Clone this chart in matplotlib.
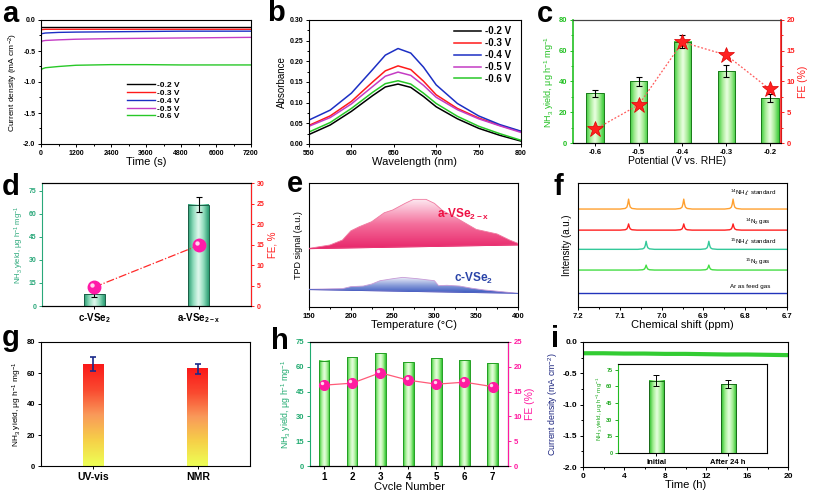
import numpy as np
import matplotlib
matplotlib.use('Agg')
import matplotlib.pyplot as plt
from matplotlib.colors import LinearSegmentedColormap
from matplotlib.ticker import MultipleLocator
from matplotlib.transforms import offset_copy

plt.rcParams['font.family'] = ['Liberation Sans', 'DejaVu Sans']
plt.rcParams['font.weight'] = 'bold'
plt.rcParams['mathtext.default'] = 'regular'
plt.rcParams['axes.linewidth'] = 0.8

# ---- data ----
# a: i-t curves
a_time = [0, 30, 150, 600, 1200, 2400, 3600, 4800, 6000, 7200]
a_j02 = [-0.12, -0.12, -0.12, -0.12, -0.12, -0.12, -0.12, -0.12, -0.12, -0.12]
a_j03 = [-0.16, -0.155, -0.15, -0.15, -0.15, -0.15, -0.15, -0.15, -0.15, -0.15]
a_j04 = [-0.24, -0.22, -0.21, -0.20, -0.195, -0.19, -0.185, -0.18, -0.18, -0.18]
a_j05 = [-0.38, -0.34, -0.33, -0.32, -0.31, -0.30, -0.295, -0.29, -0.285, -0.28]
a_j06 = [-0.82, -0.79, -0.77, -0.75, -0.73, -0.72, -0.72, -0.725, -0.725, -0.725]
potentials = ['-0.2 V', '-0.3 V', '-0.4 V', '-0.5 V', '-0.6 V']

# b: UV-vis spectra
b_wl = [550, 575, 600, 625, 640, 655, 670, 685, 700, 725, 750, 775, 800]
b_02 = [.023, .046, .079, .117, .138, .145, .137, .115, .090, .061, .038, .021, .007]
b_03 = [.045, .068, .103, .150, .177, .189, .180, .152, .119, .086, .063, .045, .030]
b_04 = [.058, .082, .123, .180, .215, .231, .220, .186, .143, .098, .068, .047, .031]
b_05 = [.043, .064, .097, .139, .164, .174, .166, .142, .113, .083, .061, .044, .028]
b_06 = [.029, .052, .086, .125, .146, .153, .145, .123, .098, .067, .043, .025, .009]

# c: yield and FE vs potential
c_pot = [-0.6, -0.5, -0.4, -0.3, -0.2]
c_yield = [32.3, 40.0, 66.0, 46.8, 29.1]
c_err = [2.4, 2.7, 4.3, 4.0, 2.7]
c_fe = [2.2, 6.2, 16.4, 14.3, 8.7]

# d: c-VSe2 vs a-VSe2-x
d_cats = ['c-VSe$_2$', 'a-VSe$_{2-x}$']
d_yield = [7.6, 66.0]
d_err = [1.8, 4.7]
d_fe = [4.6, 14.8]

# e: TPD
e_temp_a = [150, 175, 190, 200, 210, 225, 240, 250, 265, 275, 290, 300, 310, 325, 350, 375, 390, 400]
e_sig_a = [0.473, 0.50, 0.54, 0.614, 0.647, 0.688, 0.76, 0.782, 0.836, 0.868, 0.868, 0.836,
           0.777, 0.723, 0.626, 0.589, 0.54, 0.513]
e_base_a = [0.47, 0.50]
e_temp_c = [150, 190, 200, 215, 225, 235, 250, 262, 280, 300, 305, 315, 330, 345, 360, 380, 400]
e_sig_c = [0.143, 0.148, 0.164, 0.169, 0.185, 0.212, 0.228, 0.239, 0.228, 0.212, 0.172,
           0.175, 0.169, 0.151, 0.137, 0.124, 0.110]
e_base_c = [0.14, 0.11]

# f: 1H NMR
f_names = ['$^{14}$NH$_4^+$ standard', '$^{14}$N$_2$ gas', '$^{15}$NH$_4^+$ standard',
           '$^{15}$N$_2$ gas', 'Ar as feed gas']
f_base = [0.79, 0.62, 0.465, 0.298, 0.11]
f_peaks = [[6.829, 6.947, 7.079], [6.829, 6.947, 7.079], [6.887, 7.037], [6.887, 7.037], []]
f_height = [0.08, 0.05, 0.065, 0.04, 0.0]
f_shape_dx = [-0.02, -0.008, -0.004, -0.002, 0.0, 0.002, 0.004, 0.008, 0.02]
f_shape_y = [0.0, 0.06, 0.2, 0.5, 1.0, 0.5, 0.2, 0.06, 0.0]

# g: UV-vis vs NMR
g_cats = ['UV-vis', 'NMR']
g_yield = [65.6, 62.6]
g_err = [4.6, 3.0]

# h: cycling
h_cycle = [1, 2, 3, 4, 5, 6, 7]
h_yield = [63.7, 65.7, 68.1, 62.9, 65.3, 63.9, 62.1]
h_fe = [16.3, 16.7, 18.8, 17.3, 16.5, 16.9, 16.0]

# i: long-term stability
i_time = [0, 2, 4, 6, 8, 10, 12, 14, 16, 18, 20]
i_j = [-0.18, -0.18, -0.185, -0.185, -0.19, -0.19, -0.195, -0.2, -0.2, -0.205, -0.21]
i_cats = ['Initial', 'After 24 h']
i_yield = [65.0, 62.0]
i_err = [5.0, 3.4]

# ---- helpers ----
W, H = 813, 490
fig = plt.figure(figsize=(W / 100, H / 100), dpi=100)


def box(x0, y0, x1, y1):
    return [x0 / W, 1 - y1 / H, (x1 - x0) / W, (y1 - y0) / H]


def style(ax, size=5):
    ax.tick_params(which='both', direction='out', labelsize=size, width=0.7, pad=1.5)
    ax.tick_params(which='major', length=2.5)
    ax.tick_params(which='minor', length=1.5)


def cyl_bars(ax, xs, hs, w, colors, edge):
    cmap = LinearSegmentedColormap.from_list('cyl', colors)
    grad = np.linspace(0, 1, 60).reshape(1, -1)
    for x, h in zip(xs, hs):
        ax.imshow(grad, extent=[x - w / 2, x + w / 2, 0, h], aspect='auto',
                  cmap=cmap, zorder=2, interpolation='bicubic')
    ax.bar(xs, hs, w, fill=False, edgecolor=edge, lw=0.7, zorder=3)


def spheres(ax, xs, ys, ms, color):
    ax.plot(xs, ys, 'o', ms=ms, color=color, mec=color, zorder=5)
    tr = offset_copy(ax.transData, fig=fig, x=-ms * 0.18, y=ms * 0.18, units='points')
    ax.plot(xs, ys, 'o', ms=ms * 0.35, color='#ffd6ee', mec='none', transform=tr, zorder=6)


def letter(x, y, s):
    fig.text(x / W, 1 - y / H, s, fontsize=21, fontweight='bold', va='baseline')


line_cols = ['black', '#ff1a1a', '#1c2fc4', '#c43cc4', '#28c828']

# ---- a ----
ax = fig.add_axes(box(41, 20, 251, 144))
for ys, c, lab in zip([a_j02, a_j03, a_j04, a_j05, a_j06], line_cols, potentials):
    ax.plot(a_time, ys, color=c, lw=1, label=lab)
ax.set_xlim(0, 7200)
ax.set_ylim(-2.0, 0.0)
ax.xaxis.set_major_locator(MultipleLocator(1200))
ax.xaxis.set_minor_locator(MultipleLocator(600))
ax.yaxis.set_major_locator(MultipleLocator(0.5))
ax.yaxis.set_minor_locator(MultipleLocator(0.25))
ax.yaxis.set_major_formatter(lambda v, p: f'{v:.1f}')
style(ax)
ax.set_xlabel('Time (s)', fontsize=8, labelpad=0)
ax.set_ylabel('Current density (mA cm$^{-2}$)', fontsize=6, fontweight='normal', labelpad=2)
ax.legend(loc='upper left', bbox_to_anchor=(0.39, 0.54), frameon=False, fontsize=6,
          handlelength=3.3, handletextpad=0.3, labelspacing=0.0, borderpad=0)
letter(2, 22, 'a')

# ---- b ----
ax = fig.add_axes(box(309, 20, 521, 144))
for ys, c, lab in zip([b_02, b_03, b_04, b_05, b_06], line_cols, potentials):
    ax.plot(b_wl, ys, color=c, lw=1.1, label=lab)
ax.set_xlim(550, 800)
ax.set_ylim(0, 0.30)
ax.xaxis.set_major_locator(MultipleLocator(50))
ax.yaxis.set_major_locator(MultipleLocator(0.05))
ax.yaxis.set_minor_locator(MultipleLocator(0.025))
ax.yaxis.set_major_formatter(lambda v, p: f'{v:.2f}')
style(ax)
ax.set_xlabel('Wavelength (nm)', fontsize=8, labelpad=0)
ax.set_ylabel('Absorbance', fontsize=7, fontweight='normal', labelpad=2)
ax.legend(loc='upper left', bbox_to_anchor=(0.66, 0.99), frameon=False, fontsize=7,
          handlelength=2.8, handletextpad=0.4, labelspacing=0.2, borderpad=0)
letter(267, 21, 'b')

# ---- c ----
green_c = '#22c022'
red_c = '#ff2020'
ax = fig.add_axes(box(573, 20, 781, 143))
cyl_bars(ax, c_pot, c_yield, 0.04,
         ['#3acc3a', '#a6ec96', '#ecffe4', '#a6ec96', '#3acc3a'], '#1a7a1a')
ax.errorbar(c_pot, c_yield, yerr=c_err, fmt='none', ecolor='black', elinewidth=0.8,
            capsize=2.5, capthick=0.8, zorder=4)
ax.set_xlim(-0.65, -0.175)
ax.set_ylim(0, 80)
ax.set_xticks(c_pot)
ax.set_xticklabels([f'{p:.1f}' for p in c_pot])
ax.yaxis.set_major_locator(MultipleLocator(20))
ax.yaxis.set_minor_locator(MultipleLocator(10))
style(ax, 5.5)
ax.tick_params(axis='y', which='both', colors=green_c)
ax.spines['left'].set_color(green_c)
ax.spines['left'].set_linewidth(1.2)
ax.spines['top'].set_color('#444444')
ax.set_xlabel('Potential (V vs. RHE)', fontsize=7.5, labelpad=0)
ax.set_ylabel('NH$_3$ yield, μg h$^{-1}$ mg$^{-1}$', fontsize=6.5, color=green_c, labelpad=2)
ax2 = ax.twinx()
ax2.plot(c_pot, c_fe, ls=(0, (1.5, 1.5)), color='#ff5a5a', lw=0.9, zorder=4)
ax2.plot(c_pot, c_fe, '*', ms=12, color=red_c, mec='#dd0000', mew=0.5, zorder=5)
ax2.set_ylim(0, 20)
ax2.yaxis.set_major_locator(MultipleLocator(5))
ax2.yaxis.set_minor_locator(MultipleLocator(2.5))
style(ax2, 5.5)
ax2.tick_params(axis='y', which='both', colors=red_c)
ax2.spines['right'].set_color(red_c)
ax2.spines['right'].set_linewidth(1.2)
ax2.spines['left'].set_visible(False)
ax2.spines['top'].set_color('#444444')
ax2.set_ylabel('FE (%)', fontsize=7.5, color=red_c, labelpad=2)
letter(537, 22, 'c')

# ---- d ----
teal = '#2aa87a'
ax = fig.add_axes(box(42, 183, 251, 306))
d_x = [0, 1]
cyl_bars(ax, d_x, d_yield, 0.2,
         ['#2a9c72', '#8fdcbc', '#e2f8ee', '#8fdcbc', '#2a9c72'], '#1b5e46')
ax.errorbar(d_x, d_yield, yerr=d_err, fmt='none', ecolor='black', elinewidth=0.8,
            capsize=2.5, capthick=0.8, zorder=4)
ax.set_xlim(-0.5, 1.5)
ax.set_ylim(0, 80)
ax.set_xticks(d_x)
ax.set_xticklabels(d_cats, fontsize=7)
ax.set_yticks(range(0, 76, 15))
style(ax, 5)
ax.tick_params(axis='x', labelsize=7)
ax.tick_params(axis='y', colors=teal)
ax.spines['left'].set_color(teal)
ax.set_ylabel('NH$_3$ yield, μg h$^{-1}$ mg$^{-1}$', fontsize=5.5, fontweight='normal',
              color=teal, labelpad=2)
ax2 = ax.twinx()
ax2.plot(d_x, d_fe, ls='-.', color='#ff2a2a', lw=0.9, zorder=4)
spheres(ax2, d_x, d_fe, 9, '#ff1aa8')
ax2.set_ylim(0, 30)
ax2.yaxis.set_major_locator(MultipleLocator(5))
style(ax2, 5)
ax2.tick_params(axis='y', colors=red_c)
ax2.spines['right'].set_color(red_c)
ax2.spines['left'].set_visible(False)
ax2.set_ylabel('FE, %', fontsize=7, color=red_c, labelpad=2)
letter(2, 195, 'd')

# ---- e ----
ax = fig.add_axes(box(309, 183, 518, 307))
for tx, sy, base, cols, edge in [
        (e_temp_a, e_sig_a, e_base_a, ['#e8266a', '#f46f9c', '#fde8f0'], '#f07aa0'),
        (e_temp_c, e_sig_c, e_base_c, ['#3a58bf', '#8c9fda', '#eeeef9'], '#c79ad6')]:
    verts = list(zip(tx, sy)) + [(tx[-1], base[1]), (tx[0], base[0])]
    poly = ax.fill([v[0] for v in verts], [v[1] for v in verts], facecolor='none',
                   edgecolor=edge, lw=0.6, zorder=3)[0]
    cmap = LinearSegmentedColormap.from_list('tpd', cols)
    grad = np.linspace(0, 1, 80).reshape(-1, 1)
    im = ax.imshow(grad, extent=[tx[0], tx[-1], min(base), max(sy)], origin='lower',
                   aspect='auto', cmap=cmap, zorder=2)
    im.set_clip_path(poly)
    ax.plot([tx[0], tx[-1]], base, color=cols[0], lw=0.6, zorder=3)
ax.set_xlim(150, 400)
ax.set_ylim(0, 1)
ax.xaxis.set_major_locator(MultipleLocator(50))
ax.xaxis.set_minor_locator(MultipleLocator(25))
ax.set_yticks([])
style(ax, 5.5)
ax.text(0.737, 0.75, 'a-VSe$_{2-x}$', transform=ax.transAxes, ha='center', va='center',
        fontsize=8.5, color='#ee1144')
ax.text(0.785, 0.234, 'c-VSe$_2$', transform=ax.transAxes, ha='center', va='center',
        fontsize=8.5, color='#2a44a8')
ax.set_xlabel('Temperature (°C)', fontsize=8, labelpad=0)
ax.set_ylabel('TPD signal (a.u.)', fontsize=6.5, fontweight='normal', labelpad=4)
letter(287, 192, 'e')

# ---- f ----
ax = fig.add_axes(box(578, 183, 787, 307))
f_cols = ['#ffa030', '#ff2020', '#33c99a', '#44dd44', '#2233bb']
for base, peaks, hgt, col in zip(f_base, f_peaks, f_height, f_cols):
    xs, ys = [6.7], [base]
    for p in peaks:
        xs += [p + d for d in f_shape_dx]
        ys += [base + hgt * s for s in f_shape_y]
    xs.append(7.2)
    ys.append(base)
    ax.plot(xs, ys, color=col, lw=1)
ax.set_xlim(7.2, 6.7)
ax.set_ylim(0, 1)
ax.xaxis.set_major_locator(MultipleLocator(0.1))
ax.xaxis.set_minor_locator(MultipleLocator(0.05))
ax.xaxis.set_major_formatter(lambda v, p: f'{v:.1f}')
ax.set_yticks([])
style(ax, 5.5)
for name, tx, ty in zip(f_names, [0.837, 0.861, 0.837, 0.861, 0.823],
                        [0.92, 0.685, 0.524, 0.363, 0.169]):
    ax.text(tx, ty, name, transform=ax.transAxes, ha='center', va='center',
            fontsize=4.5, fontweight='normal')
ax.set_xlabel('Chemical shift (ppm)', fontsize=8, labelpad=0)
ax.set_ylabel('Intensity (a.u.)', fontsize=7, fontweight='normal', labelpad=4)
letter(553, 195, 'f')

# ---- g ----
ax = fig.add_axes(box(41, 342, 250, 466))
g_x = [0, 1]
gcmap = LinearSegmentedColormap.from_list(
    'g', ['#eeff55', '#f6d048', '#f99a5a', '#fa4a30', '#fa1a1a'])
vgrad = np.linspace(0, 1, 80).reshape(-1, 1)
for x, h in zip(g_x, g_yield):
    ax.imshow(vgrad, extent=[x - 0.1, x + 0.1, 0, h], origin='lower', aspect='auto',
              cmap=gcmap, zorder=2)
ax.errorbar(g_x, g_yield, yerr=g_err, fmt='none', ecolor='#1a2a8a', elinewidth=1.2,
            capsize=2.5, capthick=1.2, zorder=4)
ax.set_xlim(-0.5, 1.5)
ax.set_ylim(0, 80)
ax.set_xticks(g_x)
ax.set_xticklabels(g_cats)
ax.yaxis.set_major_locator(MultipleLocator(20))
style(ax, 5.5)
ax.tick_params(axis='x', labelsize=7.5)
ax.set_ylabel('NH$_3$ yield, μg h$^{-1}$ mg$^{-1}$', fontsize=6, fontweight='normal', labelpad=2)
letter(2, 346, 'g')

# ---- h ----
teal_h = '#1faa6f'
pink_h = '#ff1aa0'
ax = fig.add_axes(box(310, 342, 508, 466))
cyl_bars(ax, h_cycle, h_yield, 0.38,
         ['#2cc42c', '#a8f098', '#eaffe2', '#a8f098', '#2cc42c'], '#23a023')
ax.set_xlim(0.5, 7.55)
ax.set_ylim(0, 75)
ax.set_xticks(h_cycle)
ax.set_yticks(range(0, 76, 15))
style(ax, 5.5)
ax.tick_params(axis='x', labelsize=7)
ax.tick_params(axis='y', colors=teal_h)
ax.spines['left'].set_color(teal_h)
ax.set_xlabel('Cycle Number', fontsize=8, labelpad=0)
ax.set_ylabel('NH$_3$ yield, μg h$^{-1}$ mg$^{-1}$', fontsize=6.3, color=teal_h, labelpad=2)
ax2 = ax.twinx()
ax2.plot(h_cycle, h_fe, color='#ff5a78', lw=0.9, zorder=4)
spheres(ax2, h_cycle, h_fe, 7, pink_h)
ax2.set_ylim(0, 25)
ax2.yaxis.set_major_locator(MultipleLocator(5))
style(ax2, 5.5)
ax2.tick_params(axis='y', colors=pink_h)
ax2.spines['right'].set_color(pink_h)
ax2.spines['left'].set_visible(False)
ax2.set_ylabel('FE (%)', fontsize=7.5, color=pink_h, labelpad=2)
letter(271, 349, 'h')

# ---- i ----
ax = fig.add_axes(box(583, 342, 788, 467))
ax.plot(i_time, i_j, color='#33cc33', lw=3)
ax.set_xlim(0, 20)
ax.set_ylim(-2.0, 0.0)
ax.xaxis.set_major_locator(MultipleLocator(4))
ax.xaxis.set_minor_locator(MultipleLocator(2))
ax.yaxis.set_major_locator(MultipleLocator(0.5))
ax.yaxis.set_minor_locator(MultipleLocator(0.25))
ax.yaxis.set_major_formatter(lambda v, p: f'{v:.1f}')
style(ax, 6)
ax.set_xlabel('Time (h)', fontsize=8, labelpad=0)
ax.set_ylabel('Current density (mA cm$^{-2}$)', fontsize=6.3, color='#1a237e', labelpad=2)
letter(551, 347, 'i')

ins = fig.add_axes(box(618, 364, 767, 453))
i_x = [0, 1]
cyl_bars(ins, i_x, i_yield, 0.21,
         ['#22bb22', '#a0ee90', '#e8ffe2', '#a0ee90', '#22bb22'], '#1a6a1a')
ins.errorbar(i_x, i_yield, yerr=i_err, fmt='none', ecolor='black', elinewidth=0.7,
             capsize=2, capthick=0.7, zorder=4)
ins.set_xlim(-0.53, 1.54)
ins.set_ylim(0, 80)
ins.set_xticks(i_x)
ins.set_xticklabels(i_cats)
ins.set_yticks(range(0, 76, 15))
style(ins, 4)
ins.tick_params(axis='x', labelsize=5.5)
ins.tick_params(axis='y', colors='#22aa22')
ins.spines['left'].set_color('#22bb22')
ins.set_ylabel('NH$_3$ yield, μg h$^{-1}$ mg$^{-1}$', fontsize=4.5, color='#22aa22', labelpad=1)

fig.savefig('out.png', dpi=100)
